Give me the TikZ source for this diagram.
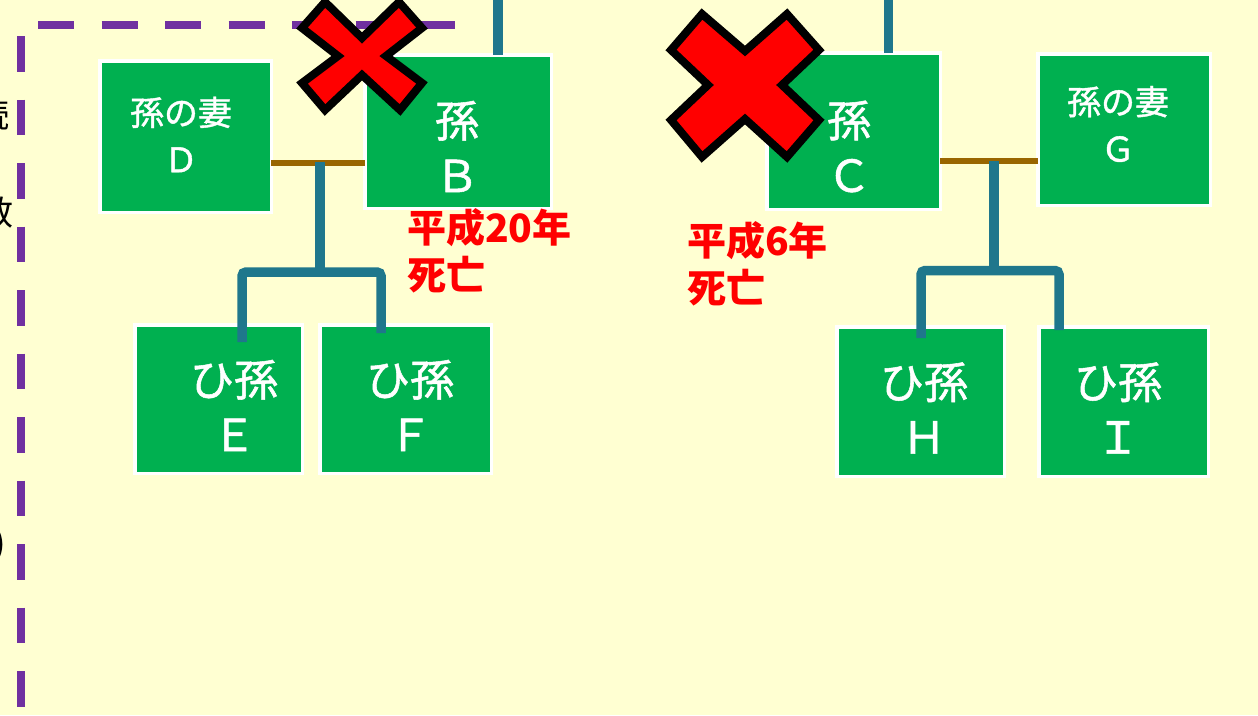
\documentclass[tikz,border=0pt]{standalone}
\usepackage{fontspec}
\newfontfamily\jp{Noto Sans CJK JP}
\newfontfamily\jpw[FakeBold=1.2]{Noto Sans CJK JP}
\definecolor{bg}{HTML}{FFFFD2}
\definecolor{grn}{HTML}{00B050}
\definecolor{tealc}{HTML}{1F778C}
\definecolor{brn}{HTML}{996600}
\definecolor{purp}{HTML}{7030A0}
\tikzset{
  box/.style={draw=white, line width=3.5pt, fill=grn, inner sep=0pt, outer sep=0pt},
  tl/.style={draw=tealc, line width=9.5pt, rounded corners=4pt},
  bl/.style={draw=brn, line width=6pt},
  frame/.style={draw=purp, line width=8.5pt},
  lblS/.style={text=white, align=center, inner sep=0pt, font=\jpw\fontsize{34}{47}\selectfont},
  lblL/.style={text=white, align=center, inner sep=0pt, font=\jpw\fontsize{44}{55}\selectfont},
  dead/.style={text=red, align=left, inner sep=0pt, anchor=west, font=\jp\bfseries\fontsize{39}{47}\selectfont},
  frag/.style={text=black, inner sep=0pt, anchor=east, font=\jp\fontsize{34}{40}\selectfont},
  xmark/.style={fill=red, draw=black, line width=8pt, line join=miter}
}
\begin{document}
\begin{tikzpicture}[x=1pt,y=-1pt]
\useasboundingbox (0,0) rectangle (1258,715);
\fill[bg] (0,0) rectangle (1258,715);
% cut-off text at the left edge (cut in the reference as well)
\node[frag] (f1) at (10,115) {続};
\node[frag] (f2) at (14,213) {数};
\node[frag] (f3) at (6,545) {)};
% dashed frame
\draw[frame, dash pattern=on 36pt off 27.5pt] (38,25) -- (458,25);
\draw[frame, dash pattern=on 35.5pt off 28pt] (21,36) -- (21,715);
% coordinates
\coordinate (m1) at (320,163);
\coordinate (j1) at (320,272);
\coordinate (eE) at (242,342);
\coordinate (eF) at (381,333);
\coordinate (m2) at (994,161);
\coordinate (j2) at (994,270.5);
\coordinate (eH) at (921,338);
\coordinate (eI) at (1059,330);
\coordinate (tB) at (498,0);
\coordinate (tC) at (888.5,0);
% boxes
\node[box, minimum width=171.5pt, minimum height=151.5pt] (D) at (185.5,136.5) {};
\node[box, minimum width=186.5pt, minimum height=153.5pt] (B) at (458,131.5) {};
\node[box, minimum width=173.5pt, minimum height=156.5pt] (C) at (853.5,131) {};
\node[box, minimum width=172.5pt, minimum height=151.5pt] (G) at (1124,129.5) {};
\node[box, minimum width=167.5pt, minimum height=148.5pt] (E) at (218.5,399) {};
\node[box, minimum width=171.5pt, minimum height=148.5pt] (F) at (405.5,399) {};
\node[box, minimum width=167.5pt, minimum height=149.5pt] (H) at (920.5,401.5) {};
\node[box, minimum width=169.5pt, minimum height=149.5pt] (I) at (1123.5,401.5) {};
% marriage lines
\draw[bl] (D.east |- m1) -- (B.west |- m1);
\draw[bl] (C.east |- m2) -- (G.west |- m2);
% descent lines
\draw[tl] (tB) -- (tB |- B.north);
\draw[tl] (tC) -- (tC |- C.north);
\draw[tl] ([yshift=1.5pt]m1) -- (j1);
\draw[tl] (eE) -- (eE |- j1) -- (eF |- j1) -- (eF);
\draw[tl] (m2) -- (j2);
\draw[tl] (eH) -- (eH |- j2) -- (eI |- j2) -- (eI);
% labels
\node[lblS] (Dt) at (181,134.5) {孫の妻\\Ｄ};
\node[lblL] (Bt) at (457,146.5) {孫\\Ｂ};
\node[lblL] (Ct) at (849,146.5) {孫\\Ｃ};
\node[lblS] (Gt) at (1118,124) {孫の妻\\Ｇ};
\node[lblL] (Et) at (234,405.5) {ひ孫\\Ｅ};
\node[lblL] (Ft) at (410,405.5) {ひ孫\\Ｆ};
\node[lblL] (Ht) at (924,408) {ひ孫\\Ｈ};
\node[lblL] (It) at (1118,408) {ひ孫\\Ｉ};
% crosses
\filldraw[xmark, shift={(362,56)}] (-60,-28) -- (-37,-54) -- (0,-18) -- (37,-54) -- (60,-28) -- (24,0) -- (60,27) -- (38,54) -- (0,19) -- (-37,54) -- (-60,27) -- (-24,0) -- cycle;
\filldraw[xmark, shift={(745,85)}] (-74,-35) -- (-43,-71) -- (0,-34) -- (42,-71) -- (74,-35) -- (37,0) -- (74,35) -- (42,72) -- (0,34) -- (-43,72) -- (-74,35) -- (-37,0) -- cycle;
% death notes
\node[dead] (dB) at (407,250.5) {平成20年\\死亡};
\node[dead] (dC) at (687,264) {平成6年\\死亡};
\end{tikzpicture}
\end{document}
